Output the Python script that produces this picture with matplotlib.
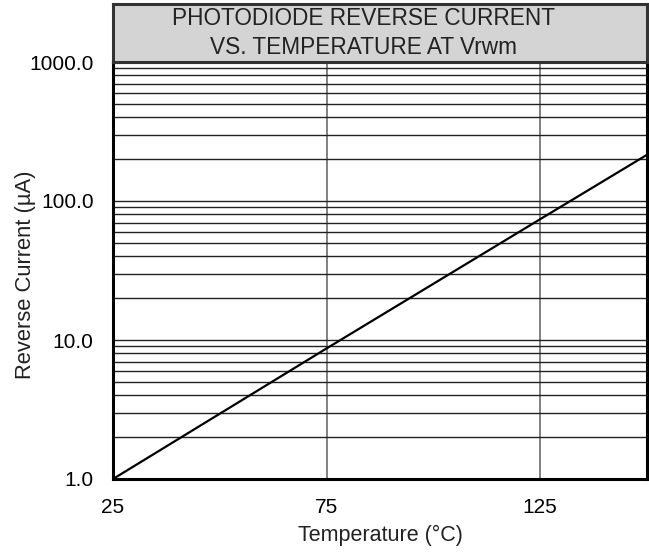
import matplotlib
matplotlib.use("Agg")
import matplotlib.pyplot as plt
from matplotlib.ticker import FixedLocator, NullFormatter

plt.rcParams['font.family'] = ['Liberation Sans', 'DejaVu Sans']

temperature = [25, 75, 125, 150]
reverse_current = [1.0, 8.7, 74.0, 215.0]
x_ticks = [25, 75, 125]
x_ticklabels = ["25", "75", "125"]
y_ticks = [1, 10, 100, 1000]
y_ticklabels = ["1.0", "10.0", "100.0", "1000.0"]
title_lines = ["PHOTODIODE REVERSE CURRENT", "VS. TEMPERATURE AT Vrwm"]

W, H = 649, 553
fig = plt.figure(figsize=(W/100, H/100), dpi=100)

L, R, B, T, TT = 113, 647, 479, 62, 4
ax = fig.add_axes([L/W, 1-B/H, (R-L)/W, (B-T)/H])
ax.set_yscale('log')
ax.set_xlim(25, 150)
ax.set_ylim(1, 1000)

minor = [m*10**e for e in range(0, 3) for m in range(2, 10)]
ax.yaxis.set_minor_locator(FixedLocator(minor))
ax.yaxis.set_minor_formatter(NullFormatter())
ax.set_yticks(y_ticks)
ax.set_yticklabels(y_ticklabels)
ax.set_xticks(x_ticks)
ax.set_xticklabels(x_ticklabels)
ax.tick_params(axis='both', which='both', length=0, labelsize=15)
ax.tick_params(axis='y', pad=14)
ax.tick_params(axis='x', pad=13.5)

ax.grid(True, axis='y', which='both', color='#222222', linewidth=1.0)
ax.grid(True, axis='x', which='major', color='#777777', linewidth=1.3)

ax.plot(temperature, reverse_current, color='black', linewidth=1.6, zorder=3)

for s in ax.spines.values():
    s.set_linewidth(2.2)
    s.set_color('black')

ax.set_xlabel("Temperature (°C)", fontsize=15.5, color='#222222')
ax.set_ylabel("Reverse Current (µA)", fontsize=15.8, color='#222222')
ax.xaxis.set_label_coords(0.5, (B-535)/(B-T))
ax.xaxis.label.set_verticalalignment('center')
ax.yaxis.set_label_coords((25-L)/(R-L), 0.49)
ax.yaxis.label.set_verticalalignment('center')
ax.yaxis.label.set_horizontalalignment('center')

tax = fig.add_axes([L/W, 1-T/H, (R-L)/W, (T-TT)/H])
tax.set_facecolor('#d4d4d4')
tax.set_xticks([])
tax.set_yticks([])
for s in tax.spines.values():
    s.set_linewidth(2.2)
    s.set_color('#333333')
tax.text((363-L)/(R-L), 0.5, "\n".join(title_lines), ha='center', va='center',
         fontsize=16.3, transform=tax.transAxes, color='#222222', linespacing=1.38)

fig.savefig("out.png", dpi=100)
